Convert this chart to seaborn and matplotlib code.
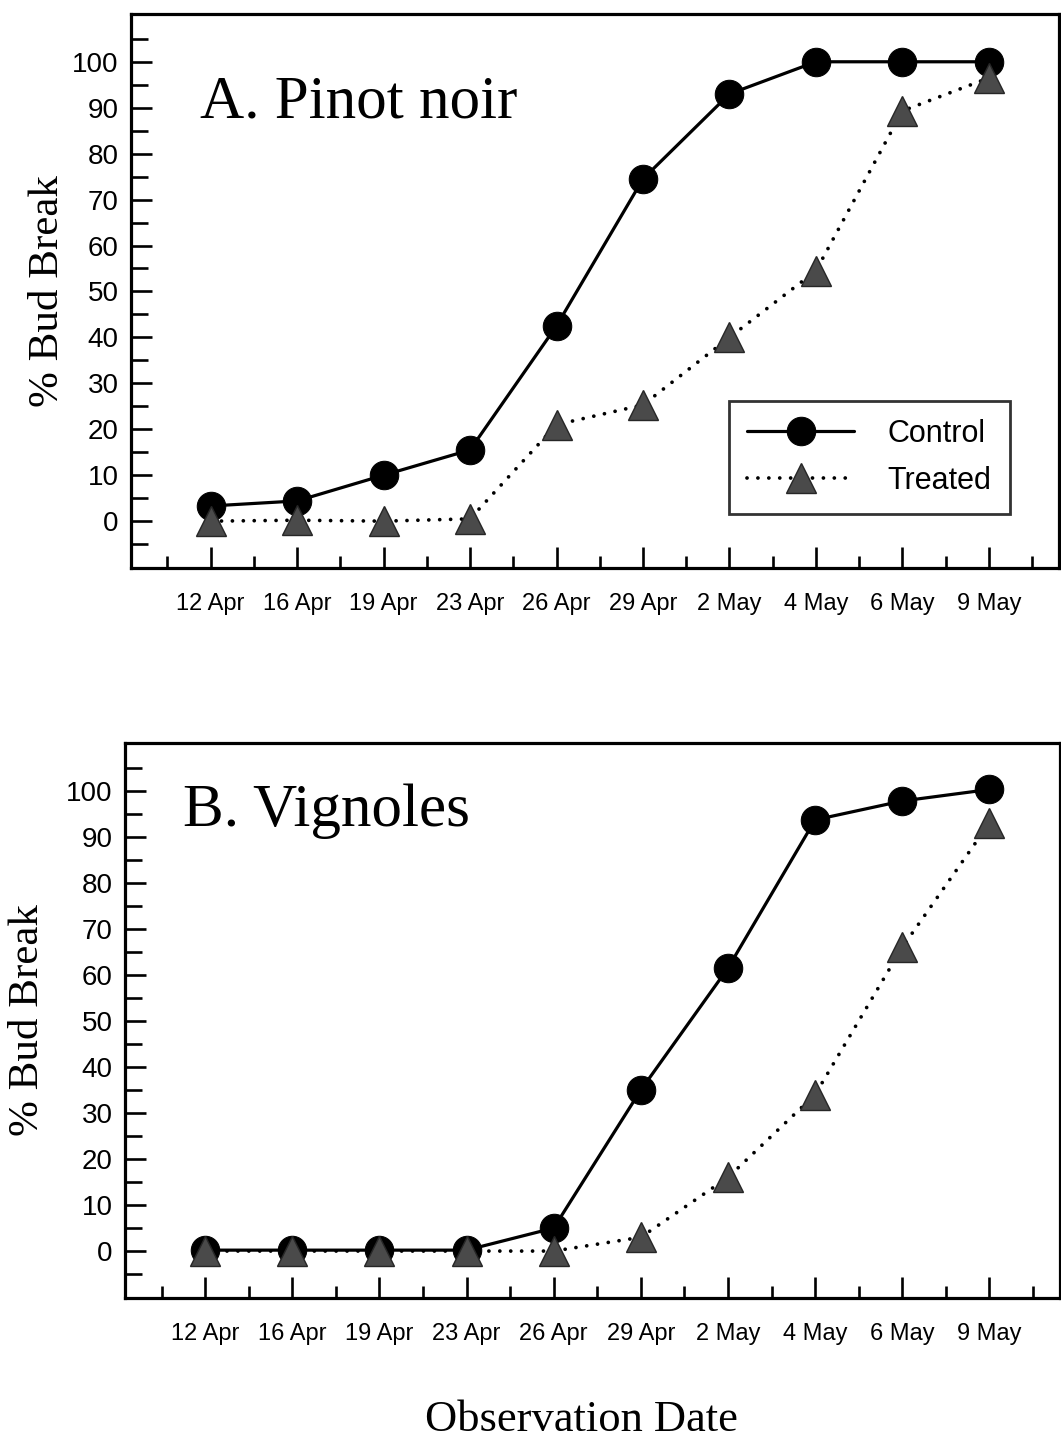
import numpy as np
import pandas as pd
import matplotlib
matplotlib.use("Agg")
import matplotlib.pyplot as plt
import seaborn as sns

dates = ["12 Apr", "16 Apr", "19 Apr", "23 Apr", "26 Apr", "29 Apr", "2 May", "4 May", "6 May", "9 May"]
pinot_control = [3.3, 4.4, 10, 15.5, 42.5, 74.5, 93, 100, 100, 100]
pinot_treated = [0, 0.2, 0, 0.5, 21, 25.3, 40, 54.5, 89.3, 96.5]
vign_control = [0.2, 0.2, 0.2, 0.2, 5, 35, 61.5, 93.7, 97.8, 100.3]
vign_treated = [0, 0, 0, 0, 0, 3, 16, 34, 66, 93]
panel_titles = ["A. Pinot noir", "B. Vignoles"]
ytick_vals = list(range(0, 101, 10))

sns.set_style("ticks")
plt.rcParams["font.family"] = ["Liberation Sans", "DejaVu Sans"]
for k in ["text.color", "axes.labelcolor", "xtick.color", "ytick.color", "axes.edgecolor"]:
    plt.rcParams[k] = "black"

fig = plt.figure(figsize=(10.61, 14.42), dpi=100)
W, H = 1061, 1442
boxes = [(131, 14, 1059, 568), (125, 743, 1060, 1298)]
series = [(pinot_control, pinot_treated), (vign_control, vign_treated)]
title_pos = [((200 - 131) / 928, (568 - 118) / 554), ((183 - 125) / 935, (1298 - 826) / 555)]
ylab_x = [(48 - 131) / 928, (28 - 125) / 935]

pos = np.arange(len(dates))
for i, (l, t, r, b) in enumerate(boxes):
    ax = fig.add_axes([l / W, 1 - b / H, (r - l) / W, (b - t) / H])
    ctrl, trt = series[i]
    sns.lineplot(x=pos, y=ctrl, ax=ax, color="black", marker="o", markersize=20.5,
                 linewidth=2.3, markeredgecolor="black", markerfacecolor="black",
                 label="Control", zorder=3, sort=False)
    sns.lineplot(x=pos, y=trt, ax=ax, color="black", marker="^", markersize=21,
                 linewidth=2.7, linestyle=(0, (0.01, 2.9)), dash_capstyle="round",
                 markerfacecolor="#4a4a4a", markeredgecolor="#262626", markeredgewidth=1,
                 label="Treated", zorder=4, sort=False)
    ax.set_xlim(-0.92, 9.81)
    ax.set_ylim(-10.2, 110.4)
    ax.set_xticks(pos)
    ax.set_xticklabels(dates)
    ax.set_xticks(np.arange(-0.5, 10, 1.0), minor=True)
    ax.set_yticks(ytick_vals)
    ax.set_yticks(np.arange(-5, 110, 10), minor=True)
    ax.tick_params(axis="both", which="both", direction="in", color="black", width=1.9)
    ax.tick_params(axis="y", which="major", length=15, labelsize=20, pad=9)
    ax.tick_params(axis="y", which="minor", length=12)
    ax.tick_params(axis="x", which="major", length=15, labelsize=17, pad=18)
    ax.tick_params(axis="x", which="minor", length=9)
    for s in ax.spines.values():
        s.set_visible(True)
        s.set_linewidth(2.3)
        s.set_color("black")
    ax.set_xlabel("")
    ax.set_ylabel("")
    ax.text(title_pos[i][0], title_pos[i][1], panel_titles[i], transform=ax.transAxes,
            family="Liberation Serif", fontsize=44, ha="left", va="baseline")
    ax.text(ylab_x[i], 0.5, "% Bud Break", transform=ax.transAxes, rotation=90,
            family="Liberation Serif", fontsize=31, ha="center", va="center")
    if i == 0:
        leg = ax.legend(loc="lower right", bbox_to_anchor=(0.947, 0.0975), borderaxespad=0,
                        fontsize=22, handlelength=3.5, handletextpad=1.1, labelspacing=0.55,
                        frameon=True, fancybox=False, edgecolor="black", borderpad=0.6)
        leg.get_frame().set_linewidth(2)
    else:
        ax.get_legend().remove()

fig.text(581 / W, 1 - 1420 / H, "Observation Date", family="Liberation Serif",
         fontsize=32, ha="center", va="center")

fig.savefig("out.png", dpi=100)
